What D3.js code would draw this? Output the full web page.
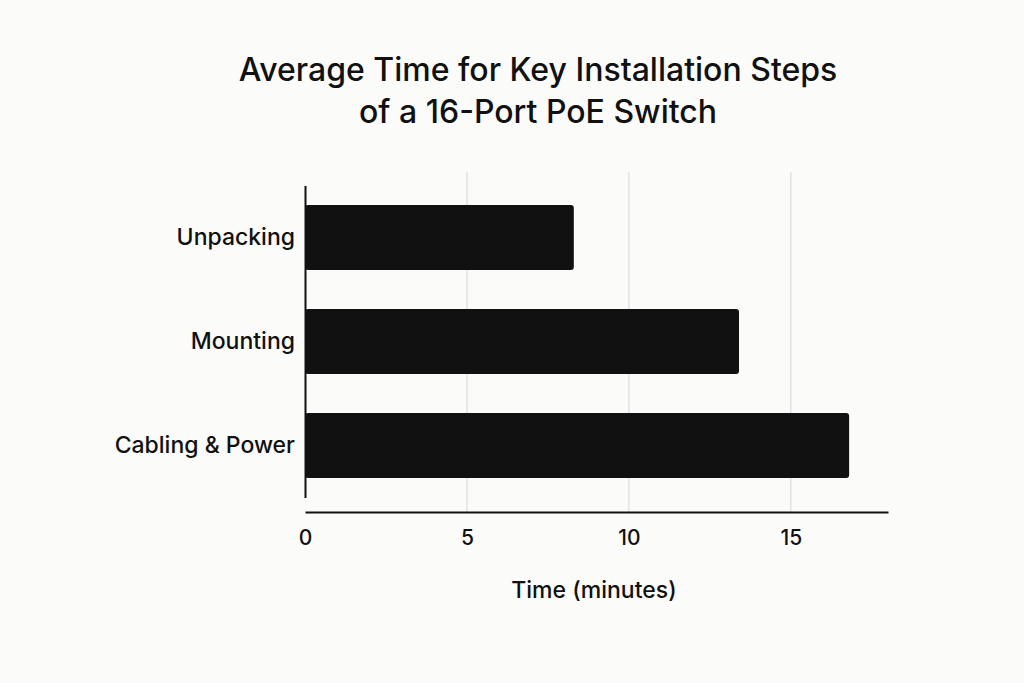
<!DOCTYPE html>
<html>
<head>
<meta charset="utf-8">
<script src="https://cdn.jsdelivr.net/npm/d3@7"></script>
<style>
  body { margin: 0; background: #fbfbfa; }
  text { font-family: Inter, "Noto Sans", sans-serif; fill: #111; }
</style>
</head>
<body>
<div id="wrapper"></div>
<script>
const categories = ["Unpacking", "Mounting", "Cabling & Power"];
const values = [8.3, 13.4, 16.8];
const ticks = [0, 5, 10, 15];

const width = 1024, height = 683;
const margin = { top: 172, right: 136, bottom: 171, left: 305 };
const bw = width - margin.left - margin.right;
const bh = height - margin.top - margin.bottom;

const svg = d3.select("#wrapper").append("svg")
  .attr("width", width).attr("height", height);

svg.append("text").attr("x", 538).attr("y", 81).attr("text-anchor", "middle")
  .style("font-size", "32px").style("font-weight", 500)
  .text("Average Time for Key Installation Steps");
svg.append("text").attr("x", 538).attr("y", 123).attr("text-anchor", "middle")
  .style("font-size", "32px").style("font-weight", 500)
  .text("of a 16-Port PoE Switch");

const bounds = svg.append("g").attr("transform", `translate(${margin.left},${margin.top})`);

const x = d3.scaleLinear().domain([0, 18]).range([0, bw]);
const y = d3.scaleBand().domain(categories).range([13.5, 325.5])
  .paddingInner(0.375).paddingOuter(0.1875);

// gridlines
bounds.selectAll(".grid").data(ticks.slice(1)).join("line")
  .attr("x1", d => x(d)).attr("x2", d => x(d))
  .attr("y1", 0).attr("y2", bh)
  .attr("stroke", "#dcdcdc").attr("stroke-width", 1.2);

bounds.selectAll(".bar").data(values).join("rect")
  .attr("x", x(0))
  .attr("y", (d, i) => y(categories[i]))
  .attr("width", d => x(d) - x(0))
  .attr("height", y.bandwidth())
  .attr("rx", 3)
  .attr("fill", "#111");

// axes
const xAxis = bounds.append("g").attr("transform", `translate(0,${bh})`)
  .call(d3.axisBottom(x).tickValues(ticks).tickSize(0).tickPadding(18));
xAxis.select(".domain").attr("stroke", "#111").attr("stroke-width", 2);
xAxis.selectAll("text").style("font-size", "21px").style("font-weight", 500);

const yAxis = bounds.append("g")
  .call(d3.axisLeft(y).tickSize(0).tickPadding(10));
yAxis.select(".domain").attr("stroke", "#111").attr("stroke-width", 2);
yAxis.selectAll("text").style("font-size", "23px").style("font-weight", 500);

svg.append("text").attr("x", 594).attr("y", 598).attr("text-anchor", "middle")
  .style("font-size", "23px").style("font-weight", 500).text("Time (minutes)");
</script>
</body>
</html>
